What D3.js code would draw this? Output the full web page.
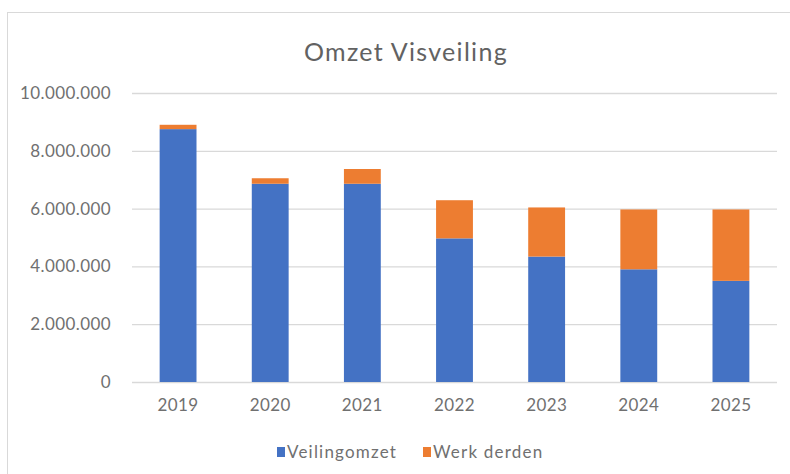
<!DOCTYPE html>
<html lang="nl">
<head>
    <meta charset="UTF-8">
    <title>Omzet Visveiling</title>
    <script src="https://d3js.org/d3.v7.min.js"></script>
    <style>
        body { margin: 0; background: #fff; }
        text { font-family: Lato, "Open Sans", sans-serif; fill: #707070; }
    </style>
</head>
<body>
    <div id="chart"></div>
    <script>
        // data
        const years = ["2019", "2020", "2021", "2022", "2023", "2024", "2025"];
        const veilingomzet = [8750000, 6860000, 6860000, 4970000, 4340000, 3900000, 3500000];
        const werkDerden = [150000, 190000, 510000, 1320000, 1700000, 2070000, 2470000];
        const seriesNames = ["Veilingomzet", "Werk derden"];
        const seriesColors = ["#4472C4", "#ED7D31"];
        const yTicks = [0, 2000000, 4000000, 6000000, 8000000, 10000000];

        const width = 790, height = 474;
        const margin = { top: 93, right: 13, bottom: 92, left: 132 };
        const plotW = width - margin.left - margin.right;
        const plotH = height - margin.top - margin.bottom;

        const svg = d3.select("#chart").append("svg")
            .attr("width", width)
            .attr("height", height);

        // outer chart border
        svg.append("rect")
            .attr("x", 7.5).attr("y", 12.5)
            .attr("width", width + 10).attr("height", height)
            .attr("fill", "none")
            .attr("stroke", "#d9d9d9");

        svg.append("text")
            .attr("x", 406).attr("y", 61)
            .attr("text-anchor", "middle")
            .style("font-size", "25px")
            .style("letter-spacing", "1.3px")
            .style("fill", "#626262")
            .text("Omzet Visveiling");

        const table = years.map((y, i) => ({ year: y, Veilingomzet: veilingomzet[i], "Werk derden": werkDerden[i] }));
        const stacked = d3.stack().keys(seriesNames)(table);

        const x = d3.scaleBand().domain(years).range([0, plotW]).paddingInner(0.6).paddingOuter(0.3);
        const y = d3.scaleLinear().domain([0, 10000000]).range([plotH, 0]);
        const color = d3.scaleOrdinal().domain(seriesNames).range(seriesColors);

        const g = svg.append("g").attr("transform", `translate(${margin.left},${margin.top})`);

        const fmt = d => d3.format(",")(d).replace(/,/g, ".");

        // gridlines + y labels
        const yAxis = g.append("g")
            .call(d3.axisLeft(y).tickValues(yTicks).tickSize(-plotW).tickPadding(21).tickFormat(fmt));
        yAxis.select(".domain").remove();
        yAxis.selectAll(".tick line").attr("stroke", "#d9d9d9").attr("stroke-width", 1.3);
        yAxis.selectAll(".tick text")
            .style("font-size", "17px")
            .style("letter-spacing", "0.4px")
            .style("fill", "#707070");

        // bars
        g.selectAll(".series")
            .data(stacked)
            .enter().append("g")
            .attr("fill", d => color(d.key))
            .selectAll("rect")
            .data(d => d)
            .enter().append("rect")
            .attr("x", d => x(d.data.year))
            .attr("y", d => y(d[1]))
            .attr("height", d => y(d[0]) - y(d[1]))
            .attr("width", x.bandwidth());

        // x axis
        const xAxis = g.append("g")
            .attr("transform", `translate(0,${plotH})`)
            .call(d3.axisBottom(x).tickSize(0).tickPadding(17));
        xAxis.select(".domain").remove();
        xAxis.selectAll(".tick text")
            .style("font-size", "17px")
            .style("letter-spacing", "0.4px")
            .style("fill", "#707070");

        // legend
        const legend = svg.append("g").attr("transform", "translate(277,452)");
        const items = legend.selectAll("g")
            .data(seriesNames)
            .enter().append("g")
            .attr("transform", (d, i) => `translate(${i * 146},0)`);
        items.append("rect")
            .attr("x", 0).attr("y", -5)
            .attr("width", 8).attr("height", 10)
            .attr("fill", d => color(d));
        items.append("text")
            .attr("x", 10).attr("y", 6)
            .style("font-size", "17px")
            .style("letter-spacing", "1.2px")
            .text(d => d);
    </script>
</body>
</html>
